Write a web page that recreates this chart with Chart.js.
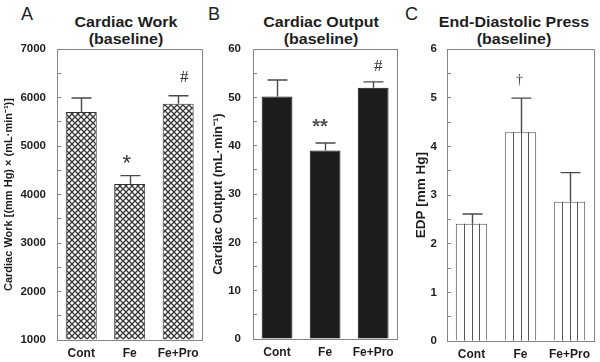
<!DOCTYPE html>
<html><head><meta charset="utf-8">
<script src="https://cdn.jsdelivr.net/npm/chart.js@4"></script>
<style>
html,body{margin:0;padding:0;background:#fff;width:600px;height:362px;overflow:hidden;position:relative;}
canvas{position:absolute;top:0;}
.letter{position:absolute;font-family:'Liberation Sans',Arial,sans-serif;font-size:18px;line-height:18px;color:#222;}
.ttl{position:absolute;width:200px;text-align:center;font-family:'Liberation Sans',Arial,sans-serif;font-weight:bold;font-size:16px;line-height:19px;color:#1e1e1e;top:14px;white-space:nowrap;transform:scaleY(0.88);transform-origin:50% 0;}
</style></head><body>
<div class="letter" style="left:21px;top:5px">A</div>
<div class="letter" style="left:208px;top:5px">B</div>
<div class="letter" style="left:405px;top:5px">C</div>
<div class="ttl" style="left:26px">Cardiac Work<br>(baseline)</div>
<div class="ttl" style="left:221px">Cardiac Output<br>(baseline)</div>
<div class="ttl" style="left:414px">End-Diastolic Press<br>(baseline)</div>
<canvas id="cA" width="205" height="362" style="left:0px"></canvas>
<canvas id="cB" width="195" height="362" style="left:205px"></canvas>
<canvas id="cC" width="200" height="362" style="left:400px"></canvas>
<script>
const categories = ['Cont', 'Fe', 'Fe+Pro'];

const workMeans = [5700, 4220, 5870];
const workErrors = [290, 170, 165];
const workMarks = ['', '*', '#'];

const outputMeans = [50.2, 39.0, 52.0];
const outputErrors = [3.4, 1.55, 1.2];
const outputMarks = ['', '**', '#'];

const edpMeans = [2.41, 4.29, 2.86];
const edpErrors = [0.2, 0.7, 0.6];
const edpMarks = ['', '\u2020', ''];

const workAxis = {min: 1000, max: 7000, step: 500, major: 1000};
const outputAxis = {min: 0, max: 60, step: 5, major: 10};
const edpAxis = {min: 0, max: 6, step: 0.5, major: 1};

const FONT = "'Liberation Sans', Arial, sans-serif";
const SERIF = "'Liberation Serif', 'Times New Roman', serif";
const TEXT = '#1e1e1e';
const AXIS = '#858585';

function crosshatch() {
  const p = 6;
  const c = document.createElement('canvas');
  c.width = p; c.height = p;
  const g = c.getContext('2d');
  g.fillStyle = '#fff'; g.fillRect(0, 0, p, p);
  g.strokeStyle = '#3a3a3a'; g.lineWidth = 1.3;
  for (const o of [-p, 0, p]) {
    g.beginPath(); g.moveTo(o, 0); g.lineTo(o + p, p); g.stroke();
    g.beginPath(); g.moveTo(o + p, 0); g.lineTo(o, p); g.stroke();
  }
  return g.createPattern(c, 'repeat');
}

const decor = {
  id: 'decor',
  afterDatasetsDraw(chart, args, o) {
    const {ctx, chartArea: a} = chart;
    const meta = chart.getDatasetMeta(0);
    const ys = chart.scales.y;
    const vals = chart.data.datasets[0].data;
    ctx.save();
    meta.data.forEach((bar, i) => {
      const {x, y, base, width} = bar.getProps(['x', 'y', 'base', 'width'], true);
      if (o.stripes) {
        ctx.strokeStyle = o.stripeColor; ctx.lineWidth = 1;
        for (let k = 1; k < 4; k++) {
          const sx = Math.round(x - width / 2 + k * width / 4) + 0.5;
          ctx.beginPath(); ctx.moveTo(sx, y); ctx.lineTo(sx, Math.min(base, a.bottom)); ctx.stroke();
        }
      }
      const top = ys.getPixelForValue(vals[i] + o.errors[i]);
      const cx = Math.round(x) + 0.5;
      ctx.strokeStyle = o.errColor; ctx.lineWidth = 1.4;
      ctx.beginPath();
      ctx.moveTo(cx, y); ctx.lineTo(cx, top);
      ctx.moveTo(cx - o.cap, top); ctx.lineTo(cx + o.cap, top);
      ctx.stroke();
      const m = o.marks[i];
      if (m) {
        const st = o.markStyle[i];
        ctx.font = st.font; ctx.fillStyle = st.color;
        ctx.textAlign = 'center'; ctx.textBaseline = 'middle';
        ctx.fillText(m, x + st.dx, top - st.dy);
      }
    });
    ctx.strokeStyle = AXIS; ctx.lineWidth = 1;
    ctx.strokeRect(Math.round(a.left) + 0.5, Math.round(a.top) + 0.5,
                   Math.round(a.right - a.left), Math.round(a.bottom - a.top));
    ctx.restore();
  }
};

function build(id, o) {
  return new Chart(document.getElementById(id), {
    type: 'bar',
    data: {
      labels: categories,
      datasets: [{
        data: o.means,
        backgroundColor: o.fill,
        borderColor: o.border,
        borderWidth: 1,
        barPercentage: 0.64,
        categoryPercentage: 1,
        base: o.axis.min
      }]
    },
    options: {
      responsive: false, animation: false, devicePixelRatio: 1,
      layout: {padding: {left: 0, right: o.padRight, top: 49, bottom: 0}},
      plugins: {
        legend: {display: false}, tooltip: {enabled: false}, title: {display: false},
        decor: {errors: o.errors, marks: o.marks, markStyle: o.markStyle, cap: 10,
                errColor: '#4a4a4a', stripes: !!o.stripes, stripeColor: '#555'}
      },
      scales: {
        x: {
          grid: {display: false, drawTicks: false}, border: {display: false},
          ticks: {color: TEXT, font: {family: FONT, size: 12, weight: 'bold'}, padding: 6},
          afterFit(s) { s.height = 20; }
        },
        y: {
          min: o.axis.min, max: o.axis.max,
          ticks: {
            stepSize: o.axis.step, autoSkip: false, color: TEXT, padding: o.tickPad,
            font: {family: FONT, size: 11.5, weight: 'bold'},
            callback: (v) => Math.abs(v / o.axis.major - Math.round(v / o.axis.major)) < 1e-6 ? String(Math.round(v * 10) / 10) : ''
          },
          grid: {drawOnChartArea: false, tickLength: -4, color: AXIS, lineWidth: 1},
          border: {display: false},
          title: {display: true, text: o.yTitle, color: TEXT,
                  font: {family: FONT, size: o.titleSize, weight: 'bold'}, padding: {top: o.titlePad, bottom: 0}},
          afterFit(s) { s.width = o.yWidth; }
        }
      }
    },
    plugins: [decor]
  });
}

build('cA', {
  means: workMeans, errors: workErrors, marks: workMarks, axis: workAxis,
  fill: crosshatch(), border: '#333', padRight: 2, yWidth: 57, tickPad: 15, titlePad: 2, titleSize: 11,
  yTitle: 'Cardiac Work [(mm Hg) \u00d7 (mL\u00b7min\u207b\u00b9)]',
  markStyle: [null, {font: '22px ' + FONT, color: '#333', dx: -3, dy: 12},
              {font: '17px ' + SERIF, color: '#333', dx: 6, dy: 18}]
});
build('cB', {
  means: outputMeans, errors: outputErrors, marks: outputMarks, axis: outputAxis,
  fill: '#1c1c1c', border: '#111', padRight: 2, yWidth: 48, tickPad: 16, titlePad: 6, titleSize: 13,
  yTitle: 'Cardiac Output (mL\u00b7min\u207b\u00b9)',
  markStyle: [null, {font: 'bold 20px ' + FONT, color: '#555', dx: -5, dy: 16},
              {font: '17px ' + SERIF, color: '#333', dx: 5, dy: 15}]
});
build('cC', {
  means: edpMeans, errors: edpErrors, marks: edpMarks, axis: edpAxis,
  fill: '#ffffff', border: '#555', padRight: 6, yWidth: 47, tickPad: 14, titlePad: 13, titleSize: 13.5,
  stripes: true,
  yTitle: 'EDP [mm Hg]',
  markStyle: [null, {font: '14px ' + SERIF, color: '#444', dx: -1, dy: 18}, null]
});
</script>
</body></html>
